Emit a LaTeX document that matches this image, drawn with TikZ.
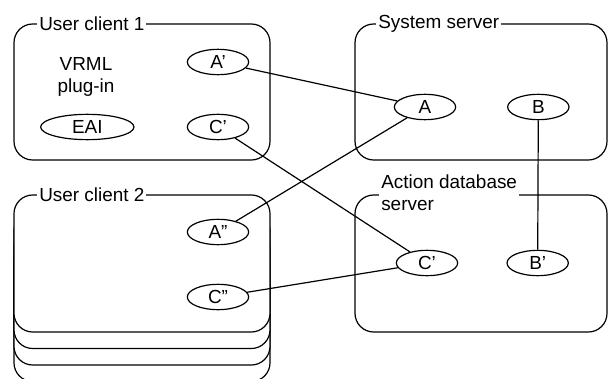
\documentclass[tikz,border=0pt]{standalone}
\usepackage{fontspec}
\setmainfont{Liberation Sans}
\usetikzlibrary{positioning,shapes.geometric}

\begin{document}
\begin{tikzpicture}[x=0.75pt, y=-0.75pt, node distance=48.75pt, on grid,
      every node/.style={font=\fontsize{14.2}{16.5}\selectfont},
      port/.style={ellipse, draw, line width=0.9pt, minimum width=46pt,
        minimum height=19pt, inner sep=0pt},
      box/.style={draw, line width=0.9pt, rounded corners=14pt, fill=white},
      boxlabel/.style={fill=white, inner sep=1.5pt, anchor=west, align=left}
  ]
    \useasboundingbox (0,0) rectangle (609,378);
    % boxes
    \draw[box] (14,24) rectangle (270,160);
    \node[boxlabel] (uc1) at (37,24) {User client 1};
    \draw[box] (355,24) rectangle (607,160);
    \node[boxlabel] (sys) at (376,24) {System server};
    \draw[box] (355,195) rectangle (607,332);
    \node[boxlabel] (adb) at (379,193) {Action database\\server};
    \foreach \dy in {49.5,33,16.5}
      \draw[box] (14,195+\dy) rectangle (270,332+\dy);
    \draw[box] (14,195) rectangle (270,332);
    \node[boxlabel] (uc2) at (37,195) {User client 2};
    % ports
    \node[align=center] (vrml) at (86,77) {VRML\\plug-in};
    \node[port] (Ap) at (218,62) {A'};
    \node[port] (Cp) [below=of Ap] {C'};
    \node[port, minimum width=70pt] (EAI) [left=98pt of Cp] {EAI};
    \node[port] (App) at (218,232) {A''};
    \node[port] (Cpp) [below=of App] {C''};
    \node[port] (A) at (425,107) {A};
    \node[port] (B) [right=85pt of A] {B};
    \node[port] (Cs) at (427,263) {C'};
    \node[port] (Bp) [right=83pt of Cs] {B'};
    \path[draw, line width=0.9pt]
    (Ap) -- (A)
    (App) -- (A)
    (Cp) -- (Cs)
    (Cpp) -- (Cs)
    (B) -- (Bp);
  \end{tikzpicture}
\end{document}
